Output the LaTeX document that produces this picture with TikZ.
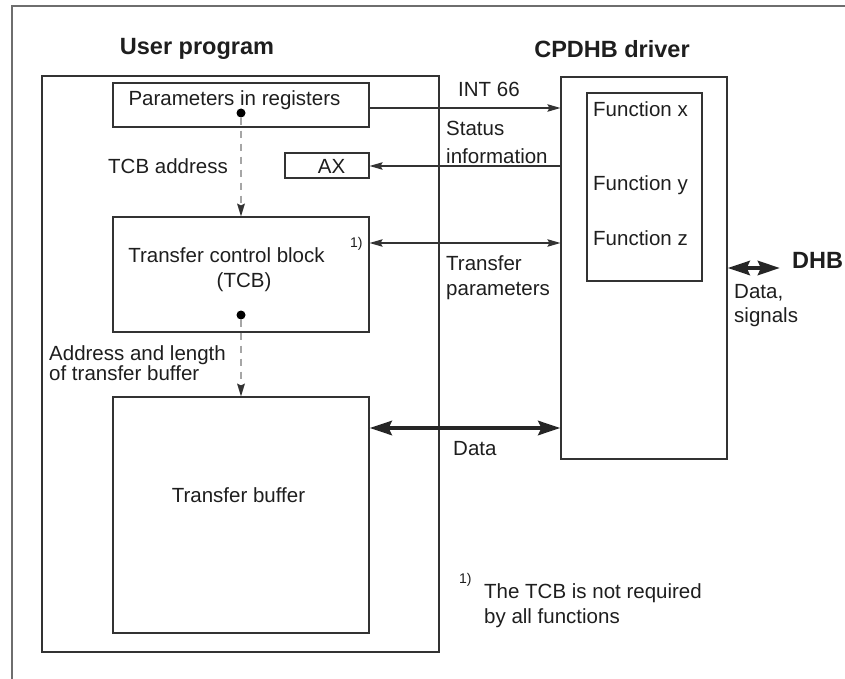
\documentclass[tikz,border=0pt]{standalone}
\usepackage{fontspec}
\setmainfont{Liberation Sans}
\usetikzlibrary{arrows.meta}
\definecolor{ln}{HTML}{333333}
\definecolor{tx}{HTML}{1E1E1E}
\definecolor{fr}{HTML}{6E6E6E}
\tikzset{
  box/.style={draw=ln, line width=1.2pt, inner sep=0pt, fill=none},
  lbl/.style={text=tx, inner sep=0pt, font=\fontsize{20.5}{24}\selectfont},
  head/.style={text=tx, inner sep=0pt, font=\fontsize{23.5}{27}\selectfont\bfseries},
  sup/.style={text=tx, inner sep=0pt, font=\fontsize{14}{16}\selectfont},
  arr/.style={draw=ln, line width=1.2pt, -{Stealth[length=13pt,width=7.5pt,inset=2pt]}},
  darr/.style={draw=ln, line width=1.2pt, {Stealth[length=13pt,width=7.5pt,inset=2pt]}-{Stealth[length=13pt,width=7.5pt,inset=2pt]}},
  thick2/.style={draw=black!85, line width=4.5pt, {Stealth[length=22pt,width=14pt,inset=3pt]}-{Stealth[length=22pt,width=14pt,inset=3pt]}},
  dsh/.style={draw=gray!70, line width=1.2pt, dash pattern=on 7pt off 6pt, -{Stealth[length=13pt,width=8pt,inset=2pt,color=ln,line width=0pt]}},
  dotnode/.style={circle, fill=black, inner sep=0pt, minimum size=9pt}
}
\begin{document}
\begin{tikzpicture}[x=1pt,y=-1pt]
\useasboundingbox (0,0) rectangle (845,679);
% outer frame
\draw[fr, line width=1.5pt] (12,679) -- (12,6) -- (845,6);

% headings
\node[head, anchor=base] (hup) at (197,55) {User program};
\node[head, anchor=base] (hdrv) at (612,58) {CPDHB driver};

% boxes
\node[box, minimum width=397pt, minimum height=576pt] (up) at (240.5,364) {};
\node[box, minimum width=166pt, minimum height=382pt] (drv) at (644,268) {};
\node[box, minimum width=115pt, minimum height=188pt] (fn) at (644.5,187) {};
\node[box, minimum width=256pt, minimum height=44pt] (par) at (241,105) {};
\node[box, minimum width=84pt, minimum height=25pt] (ax) at (327,165.5) {};
\node[box, minimum width=256pt, minimum height=115pt] (tcb) at (241,274.5) {};
\node[box, minimum width=256pt, minimum height=236pt] (buf) at (241,515) {};

% texts in boxes
\node[lbl, anchor=base] (tpar) at (234.5,106) {Parameters in registers};
\node[lbl, anchor=base] (tax) at (331.5,174) {AX};
\node[lbl, anchor=base] (ttcb1) at (226.5,262) {Transfer control block};
\node[lbl, anchor=base] (ttcb2) at (244,287) {(TCB)};
\node[sup, anchor=base west] (tsup) at (350,247) {1)};
\node[lbl, anchor=base] (tbuf) at (238.5,502) {Transfer buffer};
\node[lbl, anchor=base west] (tfx) at (593,117) {Function x};
\node[lbl, anchor=base west] (tfy) at (593,190) {Function y};
\node[lbl, anchor=base west] (tfz) at (593,245) {Function z};

% dots
\node[dotnode] (d1) at (241,113) {};
\node[dotnode] (d2) at (241,315) {};

% helper coordinates
\coordinate (yint) at (0,108);
\coordinate (ysta) at (0,166);
\coordinate (ytp) at (0,243);
\coordinate (ydat) at (0,428);
\coordinate (ydhb) at (0,268);
\coordinate (dhbend) at (780,268);

% connectors
\draw[arr] (par.east |- yint) -- (drv.west |- yint);
\draw[arr] (drv.west |- ysta) -- (ax.east |- ysta);
\draw[darr] (tcb.east |- ytp) -- (drv.west |- ytp);
\draw[thick2] (buf.east |- ydat) -- (drv.west |- ydat);
\draw[thick2] (drv.east |- ydhb) -- (dhbend);
\draw[dsh] (d1) -- (tcb.north);
\draw[dsh] (d2) -- (buf.north);

% labels
\node[lbl, anchor=base west] (lint) at (458,97) {INT 66};
\node[lbl, anchor=base west] (lst1) at (446,136) {Status};
\node[lbl, anchor=base west] (lst2) at (446,164) {information};
\node[lbl, anchor=base west] (ltcb) at (108,174) {TCB address};
\node[lbl, anchor=base west] (ltp1) at (446,270) {Transfer};
\node[lbl, anchor=base west] (ltp2) at (446,295) {parameters};
\node[lbl, anchor=base west] (lad1) at (49,360) {Address and length};
\node[lbl, anchor=base west] (lad2) at (49,380) {of transfer buffer};
\node[lbl, anchor=base west] (ldat) at (453,455) {Data};
\node[head, anchor=base west] (ldhb) at (792,268) {DHB};
\node[lbl, anchor=base west] (lds1) at (734,298) {Data,};
\node[lbl, anchor=base west] (lds2) at (734,322) {signals};
\node[sup, anchor=base west] (lfn0) at (459,583) {1)};
\node[lbl, anchor=base west] (lfn1) at (484,598) {The TCB is not required};
\node[lbl, anchor=base west] (lfn2) at (484,623) {by all functions};
\end{tikzpicture}
\end{document}
